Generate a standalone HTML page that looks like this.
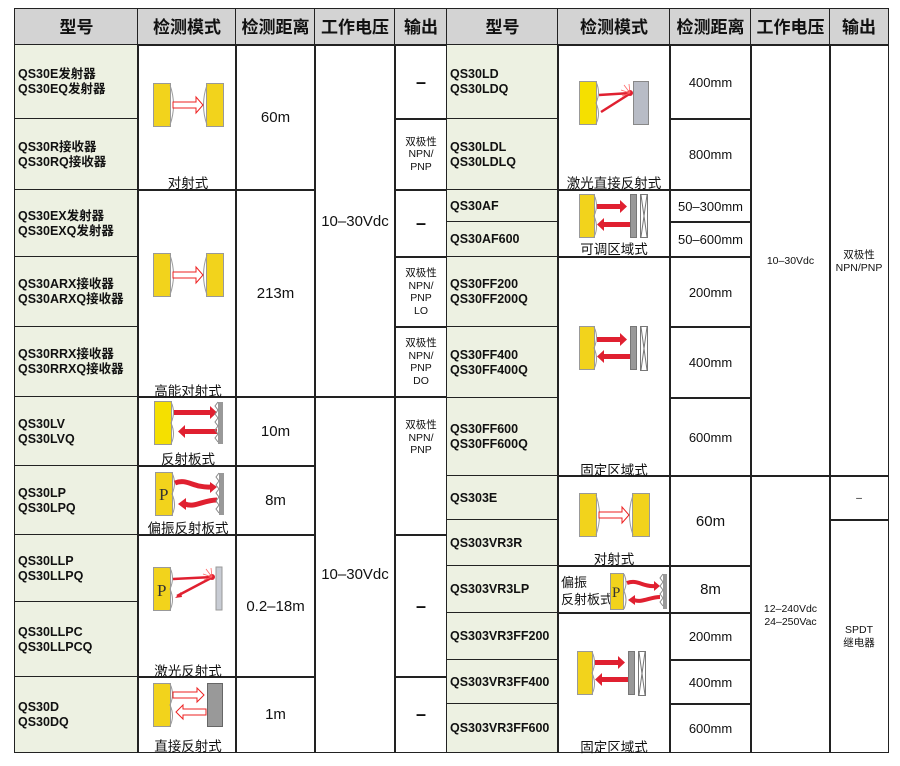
<!DOCTYPE html>
<html><head><meta charset="utf-8"><style>
body{margin:0;width:900px;height:766px;background:#fff;position:relative;overflow:hidden;font-family:"Liberation Sans","Noto Sans CJK SC",sans-serif;color:#111}
.c{position:absolute;box-sizing:border-box;border:1.8px solid #222;display:flex;align-items:center;justify-content:center;text-align:center;font-size:13px;line-height:15px}
.d{font-size:15px}
.h{background:#d3d3d3;font-weight:bold;font-size:17px}
.m{background:#edf1e2;justify-content:flex-start;text-align:left;font-weight:bold;font-size:12.5px;padding-left:3px;line-height:15px}
.o{font-size:10.5px;line-height:12.5px}
.l{position:absolute;font-size:13.5px;white-space:nowrap;transform:translateX(-50%)}
svg{position:absolute}
</style></head><body>
<!-- headers -->
<div class="c h" style="left:14px;top:8px;width:125px;height:38px">型号</div>
<div class="c h" style="left:137px;top:8px;width:100px;height:38px">检测模式</div>
<div class="c h" style="left:235px;top:8px;width:81px;height:38px">检测距离</div>
<div class="c h" style="left:314px;top:8px;width:82px;height:38px">工作电压</div>
<div class="c h" style="left:394px;top:8px;width:54px;height:38px">输出</div>
<div class="c h" style="left:446px;top:8px;width:113px;height:38px">型号</div>
<div class="c h" style="left:557px;top:8px;width:114px;height:38px">检测模式</div>
<div class="c h" style="left:669px;top:8px;width:83px;height:38px">检测距离</div>
<div class="c h" style="left:750px;top:8px;width:81px;height:38px">工作电压</div>
<div class="c h" style="left:829px;top:8px;width:60px;height:38px">输出</div>

<!-- left models -->
<div class="c m" style="left:14px;top:44px;width:125px;height:76px">QS30E发射器<br>QS30EQ发射器</div>
<div class="c m" style="left:14px;top:118px;width:125px;height:73px">QS30R接收器<br>QS30RQ接收器</div>
<div class="c m" style="left:14px;top:189px;width:125px;height:69px">QS30EX发射器<br>QS30EXQ发射器</div>
<div class="c m" style="left:14px;top:256px;width:125px;height:72px">QS30ARX接收器<br>QS30ARXQ接收器</div>
<div class="c m" style="left:14px;top:326px;width:125px;height:72px">QS30RRX接收器<br>QS30RRXQ接收器</div>
<div class="c m" style="left:14px;top:396px;width:125px;height:71px">QS30LV<br>QS30LVQ</div>
<div class="c m" style="left:14px;top:465px;width:125px;height:71px">QS30LP<br>QS30LPQ</div>
<div class="c m" style="left:14px;top:534px;width:125px;height:69px">QS30LLP<br>QS30LLPQ</div>
<div class="c m" style="left:14px;top:601px;width:125px;height:77px">QS30LLPC<br>QS30LLPCQ</div>
<div class="c m" style="left:14px;top:676px;width:125px;height:77px">QS30D<br>QS30DQ</div>
<!-- left mode -->
<div class="c" style="left:137px;top:44px;width:100px;height:147px"></div>
<div class="c" style="left:137px;top:189px;width:100px;height:209px"></div>
<div class="c" style="left:137px;top:396px;width:100px;height:71px"></div>
<div class="c" style="left:137px;top:465px;width:100px;height:71px"></div>
<div class="c" style="left:137px;top:534px;width:100px;height:144px"></div>
<div class="c" style="left:137px;top:676px;width:100px;height:77px"></div>
<!-- left dist -->
<div class="c d" style="left:235px;top:44px;width:81px;height:147px">60m</div>
<div class="c d" style="left:235px;top:189px;width:81px;height:209px">213m</div>
<div class="c d" style="left:235px;top:396px;width:81px;height:71px">10m</div>
<div class="c d" style="left:235px;top:465px;width:81px;height:71px">8m</div>
<div class="c d" style="left:235px;top:534px;width:81px;height:144px">0.2–18m</div>
<div class="c d" style="left:235px;top:676px;width:81px;height:77px">1m</div>
<!-- left voltage -->
<div class="c d" style="left:314px;top:44px;width:82px;height:354px">10–30Vdc</div>
<div class="c d" style="left:314px;top:396px;width:82px;height:357px">10–30Vdc</div>
<!-- left output -->
<div class="c" style="left:394px;top:44px;width:54px;height:76px;font-size:18px;font-weight:bold">–</div>
<div class="c o" style="left:394px;top:118px;width:54px;height:73px">双极性<br>NPN/<br>PNP</div>
<div class="c" style="left:394px;top:189px;width:54px;height:69px;font-size:18px;font-weight:bold">–</div>
<div class="c o" style="left:394px;top:256px;width:54px;height:72px">双极性<br>NPN/<br>PNP<br>LO</div>
<div class="c o" style="left:394px;top:326px;width:54px;height:72px">双极性<br>NPN/<br>PNP<br>DO</div>
<div class="c o" style="left:394px;top:396px;width:54px;height:140px;align-items:flex-start;padding-top:22px">双极性<br>NPN/<br>PNP</div>
<div class="c" style="left:394px;top:534px;width:54px;height:144px;font-size:18px;font-weight:bold">–</div>
<div class="c" style="left:394px;top:676px;width:54px;height:77px;font-size:18px;font-weight:bold">–</div>

<!-- right models -->
<div class="c m" style="left:446px;top:44px;width:113px;height:76px">QS30LD<br>QS30LDQ</div>
<div class="c m" style="left:446px;top:118px;width:113px;height:73px">QS30LDL<br>QS30LDLQ</div>
<div class="c m" style="left:446px;top:189px;width:113px;height:34px">QS30AF</div>
<div class="c m" style="left:446px;top:221px;width:113px;height:37px">QS30AF600</div>
<div class="c m" style="left:446px;top:256px;width:113px;height:72px">QS30FF200<br>QS30FF200Q</div>
<div class="c m" style="left:446px;top:326px;width:113px;height:73px">QS30FF400<br>QS30FF400Q</div>
<div class="c m" style="left:446px;top:397px;width:113px;height:80px">QS30FF600<br>QS30FF600Q</div>
<div class="c m" style="left:446px;top:475px;width:113px;height:46px">QS303E</div>
<div class="c m" style="left:446px;top:519px;width:113px;height:48px">QS303VR3R</div>
<div class="c m" style="left:446px;top:565px;width:113px;height:49px">QS303VR3LP</div>
<div class="c m" style="left:446px;top:612px;width:113px;height:49px">QS303VR3FF200</div>
<div class="c m" style="left:446px;top:659px;width:113px;height:46px">QS303VR3FF400</div>
<div class="c m" style="left:446px;top:703px;width:113px;height:50px">QS303VR3FF600</div>
<!-- right mode -->
<div class="c" style="left:557px;top:44px;width:114px;height:147px"></div>
<div class="c" style="left:557px;top:189px;width:114px;height:69px"></div>
<div class="c" style="left:557px;top:256px;width:114px;height:221px"></div>
<div class="c" style="left:557px;top:475px;width:114px;height:92px"></div>
<div class="c" style="left:557px;top:565px;width:114px;height:49px"></div>
<div class="c" style="left:557px;top:612px;width:114px;height:141px"></div>
<!-- right dist -->
<div class="c" style="left:669px;top:44px;width:83px;height:76px">400mm</div>
<div class="c" style="left:669px;top:118px;width:83px;height:73px">800mm</div>
<div class="c" style="left:669px;top:189px;width:83px;height:34px">50–300mm</div>
<div class="c" style="left:669px;top:221px;width:83px;height:37px">50–600mm</div>
<div class="c" style="left:669px;top:256px;width:83px;height:72px">200mm</div>
<div class="c" style="left:669px;top:326px;width:83px;height:73px">400mm</div>
<div class="c" style="left:669px;top:397px;width:83px;height:80px">600mm</div>
<div class="c d" style="left:669px;top:475px;width:83px;height:92px">60m</div>
<div class="c d" style="left:669px;top:565px;width:83px;height:49px">8m</div>
<div class="c" style="left:669px;top:612px;width:83px;height:49px">200mm</div>
<div class="c" style="left:669px;top:659px;width:83px;height:46px">400mm</div>
<div class="c" style="left:669px;top:703px;width:83px;height:50px">600mm</div>
<!-- right voltage -->
<div class="c o" style="left:750px;top:44px;width:81px;height:433px;align-items:flex-start;padding-top:210px">10–30Vdc</div>
<div class="c o" style="left:750px;top:475px;width:81px;height:278px;align-items:flex-start;padding-top:127px">12–240Vdc<br>24–250Vac</div>
<!-- right output -->
<div class="c o" style="left:829px;top:44px;width:60px;height:433px;align-items:flex-start;padding-top:204px">双极性<br>NPN/PNP</div>
<div class="c o" style="left:829px;top:475px;width:60px;height:46px">–</div>
<div class="c o" style="left:829px;top:519px;width:60px;height:234px;align-items:flex-start;padding-top:104px">SPDT<br>继电器</div>

<!-- labels -->
<div class="l" style="left:188px;top:172px">对射式</div>
<div class="l" style="left:188px;top:380px">高能对射式</div>
<div class="l" style="left:188px;top:448px">反射板式</div>
<div class="l" style="left:188px;top:517px">偏振反射板式</div>
<div class="l" style="left:188px;top:660px">激光反射式</div>
<div class="l" style="left:188px;top:735px">直接反射式</div>
<div class="l" style="left:614px;top:172px">激光直接反射式</div>
<div class="l" style="left:614px;top:238px">可调区域式</div>
<div class="l" style="left:614px;top:459px">固定区域式</div>
<div class="l" style="left:614px;top:548px">对射式</div>
<div class="l" style="left:614px;top:736px">固定区域式</div>
<div style="position:absolute;left:561px;top:574px;font-size:13px;line-height:17px">偏振<br>反射板式</div>

<!-- icons -->
<svg style="left:153px;top:83px" width="71" height="45"><rect x="0.5" y="0.5" width="17" height="43" fill="#f2d31c" stroke="#999"/><path d="M17,2Q24,22 17,42" fill="none" stroke="#999"/><rect x="53.5" y="0.5" width="17" height="43" fill="#f2d31c" stroke="#999"/><path d="M54,2Q47,22 54,42" fill="none" stroke="#999"/><polygon points="20,19 43,19 43,14 50,22 43,30 43,25 20,25" fill="#fff" stroke="#e22"/></svg>
<svg style="left:153px;top:253px" width="71" height="45"><rect x="0.5" y="0.5" width="17" height="43" fill="#f2d31c" stroke="#999"/><path d="M17,2Q24,22 17,42" fill="none" stroke="#999"/><rect x="53.5" y="0.5" width="17" height="43" fill="#f2d31c" stroke="#999"/><path d="M54,2Q47,22 54,42" fill="none" stroke="#999"/><polygon points="20,19 43,19 43,14 50,22 43,30 43,25 20,25" fill="#fff" stroke="#e22"/></svg>
<svg style="left:579px;top:493px" width="71" height="45"><rect x="0.5" y="0.5" width="17" height="43" fill="#f2d31c" stroke="#999"/><path d="M17,2Q24,22 17,42" fill="none" stroke="#999"/><rect x="53.5" y="0.5" width="17" height="43" fill="#f2d31c" stroke="#999"/><path d="M54,2Q47,22 54,42" fill="none" stroke="#999"/><polygon points="20,19 43,19 43,14 50,22 43,30 43,25 20,25" fill="#fff" stroke="#e22"/></svg>
<!-- retro LV -->
<svg style="left:154px;top:401px" width="70" height="45"><rect x="0.5" y="0.5" width="17" height="43" fill="#f5e000" stroke="#999"/><path d="M17,1Q22,11 17,22Q22,33 17,43" fill="none" stroke="#999"/><rect x="20" y="9" width="37" height="5" fill="#e02030"/><polygon points="56,5 63,11.5 56,18" fill="#e02030"/><rect x="30" y="28" width="33" height="5" fill="#e02030"/><polygon points="31,24 24,30.5 31,37" fill="#e02030"/><rect x="64" y="1" width="5" height="42" fill="#999"/><path d="M64,1l-3,4 3,4-3,4 3,4-3,4 3,4-3,4 3,4-3,4 3,4" fill="none" stroke="#888"/></svg>
<!-- polar LP -->
<svg style="left:155px;top:472px" width="70" height="45"><rect x="0.5" y="0.5" width="17" height="43" fill="#f2d31c" stroke="#999"/><text x="4" y="28" font-family="Liberation Serif,serif" font-size="17" fill="#333">P</text><path d="M17,1Q22,11 17,22Q22,33 17,43" fill="none" stroke="#999"/><path d="M20,11C32,6 38,16 56,15" stroke="#e02030" stroke-width="5" fill="none"/><polygon points="55,10 62,15 55,21" fill="#e02030"/><path d="M62,28C48,28 40,36 30,32" stroke="#e02030" stroke-width="5" fill="none"/><polygon points="31,26 23,32 31,38" fill="#e02030"/><rect x="64" y="1" width="5" height="42" fill="#999"/><path d="M64,1l-3,4 3,4-3,4 3,4-3,4 3,4-3,4 3,4-3,4 3,4" fill="none" stroke="#888"/></svg>
<!-- polar right -->
<svg style="left:610px;top:573px" width="58" height="38"><rect x="0.5" y="0.5" width="13" height="36" fill="#f2d31c" stroke="#999"/><text x="2" y="24" font-family="Liberation Serif,serif" font-size="15" fill="#333">P</text><path d="M14,1Q18,10 14,18Q18,27 14,36" fill="none" stroke="#999"/><path d="M17,10C28,6 32,14 45,13" stroke="#e02030" stroke-width="4" fill="none"/><polygon points="44,8 50,13 44,18" fill="#e02030"/><path d="M50,24C40,24 32,30 24,27" stroke="#e02030" stroke-width="4" fill="none"/><polygon points="25,22 18,27 25,32" fill="#e02030"/><rect x="53" y="1" width="4" height="35" fill="#999"/><path d="M53,1l-3,4 3,4-3,4 3,4-3,4 3,4-3,4 3,4" fill="none" stroke="#888"/></svg>
<!-- laser LLP -->
<svg style="left:153px;top:566px" width="70" height="46"><rect x="0.5" y="1.5" width="17" height="43" fill="#f2d31c" stroke="#999"/><text x="4" y="30" font-family="Liberation Serif,serif" font-size="17" fill="#333">P</text><path d="M17,2Q22,12 17,23Q22,34 17,44" fill="none" stroke="#999"/><path d="M20,13L60,11" stroke="#e02030" stroke-width="2.5"/><path d="M60,11L24,30" stroke="#e02030" stroke-width="2.5"/><polygon points="22,32 28,26 29,31" fill="#e02030"/><circle cx="59" cy="11" r="3" fill="#e02030"/><path d="M59,11l-6,-8M59,11l-9,-3M59,11l-1,-9M59,11l-8,3" stroke="#f66" stroke-width="0.8"/><rect x="63" y="1" width="6" height="43" fill="#c8ccd4" stroke="#999"/></svg>
<!-- laser diffuse right -->
<svg style="left:579px;top:80px" width="70" height="46"><rect x="0.5" y="1.5" width="17" height="43" fill="#f5e000" stroke="#999"/><path d="M17,2Q22,12 17,23Q22,34 17,44" fill="none" stroke="#999"/><path d="M20,15L52,13" stroke="#e02030" stroke-width="2.5"/><path d="M52,13L22,32" stroke="#e02030" stroke-width="2.5"/><circle cx="51" cy="13" r="3" fill="#e02030"/><path d="M51,13l-6,-8M51,13l-9,-3M51,13l-1,-9M51,13l-8,3" stroke="#f66" stroke-width="0.8"/><rect x="54.5" y="1.5" width="15" height="43" fill="#b8bcc6" stroke="#888"/></svg>
<!-- diffuse D -->
<svg style="left:153px;top:683px" width="70" height="45"><rect x="0.5" y="0.5" width="17" height="43" fill="#f2d31c" stroke="#999"/><path d="M17,1Q22,11 17,22Q22,33 17,43" fill="none" stroke="#999"/><polygon points="20,9 44,9 44,5 51,12 44,19 44,15 20,15" fill="#fff" stroke="#e22"/><polygon points="53,26 30,26 30,22 23,29 30,36 30,32 53,32" fill="#fff" stroke="#e22"/><rect x="54.5" y="0.5" width="15" height="43" fill="#999" stroke="#666"/></svg>
<!-- fixed field icons -->
<svg style="left:579px;top:194px" width="72" height="45"><rect x="0.5" y="0.5" width="15" height="43" fill="#f2d31c" stroke="#999"/><path d="M15,1Q20,11 15,22Q20,33 15,43" fill="none" stroke="#999"/><rect x="18" y="10" width="24" height="5" fill="#e02030"/><polygon points="41,6 48,12.5 41,19" fill="#e02030"/><rect x="24" y="28" width="27" height="5" fill="#e02030"/><polygon points="25,24 18,30.5 25,37" fill="#e02030"/><rect x="51.5" y="0.5" width="6" height="43" fill="#999" stroke="#777"/><rect x="61.5" y="0.5" width="7" height="43" fill="#fff" stroke="#777"/><path d="M62,1L68,43M68,1L62,43" stroke="#777"/></svg>
<svg style="left:579px;top:326px" width="72" height="46"><rect x="0.5" y="0.5" width="15" height="43" fill="#f2d31c" stroke="#999"/><path d="M15,1Q20,11 15,22Q20,33 15,43" fill="none" stroke="#999"/><rect x="18" y="11" width="24" height="5" fill="#e02030"/><polygon points="41,7 48,13.5 41,20" fill="#e02030"/><rect x="24" y="28" width="27" height="5" fill="#e02030"/><polygon points="25,24 18,30.5 25,37" fill="#e02030"/><rect x="51.5" y="0.5" width="6" height="43" fill="#999" stroke="#777"/><rect x="61.5" y="0.5" width="7" height="44" fill="#fff" stroke="#777"/><path d="M62,1L68,44M68,1L62,44" stroke="#777"/></svg>
<svg style="left:577px;top:651px" width="72" height="46"><rect x="0.5" y="0.5" width="15" height="43" fill="#f2d31c" stroke="#999"/><path d="M15,1Q20,11 15,22Q20,33 15,43" fill="none" stroke="#999"/><rect x="18" y="9" width="24" height="5" fill="#e02030"/><polygon points="41,5 48,11.5 41,18" fill="#e02030"/><rect x="24" y="26" width="27" height="5" fill="#e02030"/><polygon points="25,22 18,28.5 25,35" fill="#e02030"/><rect x="51.5" y="0.5" width="6" height="43" fill="#999" stroke="#777"/><rect x="61.5" y="0.5" width="7" height="44" fill="#fff" stroke="#777"/><path d="M62,1L68,44M68,1L62,44" stroke="#777"/></svg>
</body></html>
